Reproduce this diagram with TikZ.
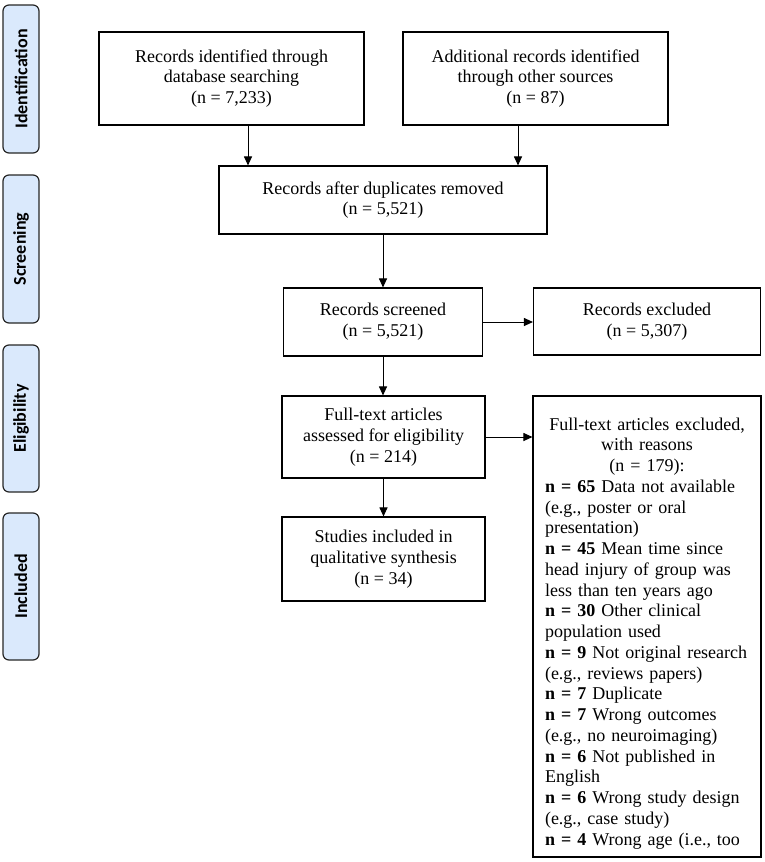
\documentclass[tikz,border=0pt]{standalone}
\usepackage{fontspec}
\setmainfont{Liberation Serif}
\newfontfamily\labfont{Carlito}
\usetikzlibrary{arrows.meta}
\setlength{\parindent}{0pt}
\definecolor{labfill}{RGB}{218,233,252}
\tikzset{
  box/.style={draw=black, line width=1.1pt, rectangle, inner sep=2pt, align=center,
    font=\fontsize{18}{20.8}\selectfont},
  phase/.style={draw=black!85, line width=1.2pt, fill=labfill, rounded corners=6pt,
    rotate=90, minimum height=36pt, inner sep=0pt,
    font=\labfont\bfseries\fontsize{18}{20}\selectfont},
  arr/.style={line width=1pt, -{Triangle[length=9pt,width=8pt]}}
}
\begin{document}
\begin{tikzpicture}[x=1pt,y=-1pt]
\useasboundingbox (0,0) rectangle (765,862);
% phase labels
\node[phase, minimum width=148pt] (l1) at (21,79) {Identification};
\node[phase, minimum width=148pt] (l2) at (21,249) {Screening};
\node[phase, minimum width=147pt] (l3) at (21,418.5) {Eligibility};
\node[phase, minimum width=147pt] (l4) at (21,586.5) {Included};
% boxes
\node[box, minimum width=265pt, minimum height=93pt] (b1) at (231.5,78.5)
  {Records identified through\\database searching\\(n = 7,233)};
\node[box, minimum width=265pt, minimum height=93pt] (b2) at (535.5,78.5)
  {Additional records identified\\through other sources\\(n = 87)};
\node[box, minimum width=328pt, minimum height=68pt] (b3) at (383,200)
  {Records after duplicates removed\\(n = 5,521)};
\node[box, minimum width=199pt, minimum height=68pt] (b4) at (383,322)
  {Records screened\\(n = 5,521)};
\node[box, minimum width=227pt, minimum height=67pt] (b5) at (647,321.5)
  {Records excluded\\(n = 5,307)};
\node[box, minimum width=203pt, minimum height=82pt] (b6) at (383.5,437)
  {Full-text articles\\assessed for eligibility\\(n = 214)};
\node[box, minimum width=203pt, minimum height=84pt] (b8) at (383.5,559)
  {Studies included in\\qualitative synthesis\\(n = 34)};
\node[draw=black, line width=1.1pt, rectangle, minimum width=228pt, minimum height=461pt,
  text width=204pt, inner xsep=12pt, inner ysep=2pt,
  font=\fontsize{18}{20.75}\selectfont] (b7) at (647,626.5)
  {{\centering\rule{0pt}{26pt}Full-text articles excluded,\\with reasons\\(n = 179):\par}
   \raggedright
   \textbf{n = 65} Data not available\\
   (e.g., poster or oral\\
   presentation)\\
   \textbf{n = 45} Mean time since\\
   head injury of group was\\
   less than ten years ago\\
   \textbf{n = 30} Other clinical\\
   population used\\
   \textbf{n = 9} Not original research\\
   (e.g., reviews papers)\\
   \textbf{n = 7} Duplicate\\
   \textbf{n = 7} Wrong outcomes\\
   (e.g., no neuroimaging)\\
   \textbf{n = 6} Not published in\\
   English\\
   \textbf{n = 6} Wrong study design\\
   (e.g., case study)\\
   \textbf{n = 4} Wrong age (i.e., too\par};
% connectors
\draw[arr] ([xshift=16.5pt]b1.south) -- ([xshift=16.5pt]b1.south |- b3.north);
\draw[arr] ([xshift=-17.5pt]b2.south) -- ([xshift=-17.5pt]b2.south |- b3.north);
\draw[arr] (b3.south) -- (b4.north);
\draw[arr] (b4.east) -- (b5.west |- b4.east);
\draw[arr] (b4.south) -- (b6.north -| b4.south);
\draw[arr] (b6.east) -- (b7.west |- b6.east);
\draw[arr] (b6.south) -- (b8.north);
\end{tikzpicture}
\end{document}
